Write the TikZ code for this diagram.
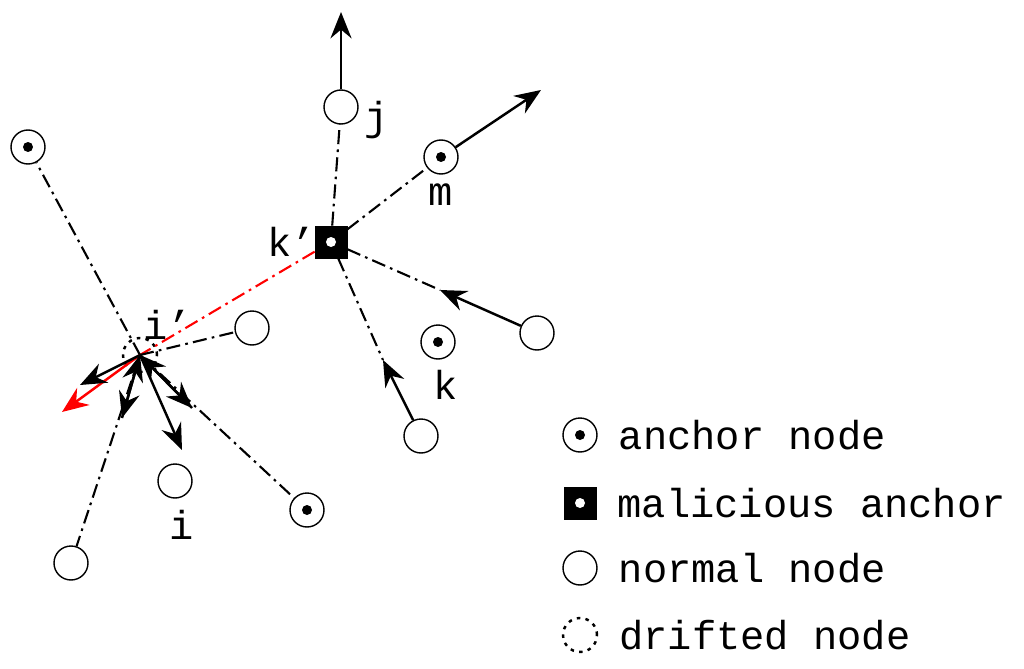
\documentclass[tikz,border=0pt]{standalone}
\usepackage{fontspec}
\setmainfont{Liberation Mono}
\usetikzlibrary{arrows.meta}

\tikzstyle{normal}=[draw, circle, line width=0.8pt, minimum size=0.68cm, inner sep=0pt, fill=white]
\tikzstyle{ancre}=[normal, path picture={\fill[black] (path picture bounding box.center) circle (0.1cm);}]
\tikzstyle{drifted}=[normal, dash pattern=on 2pt off 3pt, line width=1.4pt, fill=none]
\tikzstyle{malicious}=[draw, rectangle, fill=black, minimum size=0.64cm, inner sep=0pt,
    path picture={\fill[white] (path picture bounding box.center) circle (0.1cm);}]
\tikzstyle{dashdot}=[line width=1.2pt, dash pattern=on 8pt off 3pt on 1.5pt off 3pt]
\tikzstyle{force}=[line width=1.4pt, -{Stealth[length=15pt,width=12pt,inset=5pt]}]
\tikzstyle{lbl}=[font=\fontsize{23}{25}\selectfont]

\begin{document}
\begin{tikzpicture}[x=0.02cm, y=-0.02cm]
    \useasboundingbox (0,0) rectangle (1024,669);

    % nodes
    \node[malicious] (kp) at (331,242) {};
    \node[normal] (j) at (341,107) {};
    \node[ancre] (m) at (441,157) {};
    \node[ancre] (a1) at (28,147) {};
    \node[normal] (n1) at (252,328) {};
    \node[normal] (n2) at (537,333) {};
    \node[ancre] (k) at (438,342) {};
    \node[normal] (n3) at (421,436) {};
    \node[normal] (i) at (175,481) {};
    \node[ancre] (a2) at (307,510) {};
    \node[normal] (n4) at (71,563) {};
    \node[drifted] (ip) at (140,355) {};

    \coordinate (jt) at (341,12);
    \coordinate (mt) at (541,90);
    \coordinate (n2t) at (440,290);
    \coordinate (n3t) at (383,360);
    \coordinate (red) at (62,412);
    \coordinate (f1) at (80,385);
    \coordinate (f2) at (122,418);
    \coordinate (f3) at (192,408);
    \coordinate (f4) at (182,450);

    % labels
    \node[lbl] at (377,120) {j};
    \node[lbl] at (441,195) {m};
    \node[lbl] at (292,242) {k'};
    \node[lbl] at (446,385) {k};
    \node[lbl] at (182,525) {i};
    \node[lbl] at (168,325) {i'};

    % links
    \draw[dashdot] (kp) -- (j);
    \draw[dashdot] (kp) -- (m);
    \draw[dashdot] (kp) -- (n2t);
    \draw[dashdot] (kp) -- (n3t);
    \draw[dashdot, red] (kp) -- (ip.center);
    \draw[dashdot] (ip.center) -- (a1);
    \draw[dashdot] (ip.center) -- (n1);
    \draw[dashdot] (ip.center) -- (a2);
    \draw[dashdot] (ip.center) -- (n4);

    % forces
    \draw[force] (j) -- (jt);
    \draw[force] (m) -- (mt);
    \draw[force] (n2) -- (n2t);
    \draw[force] (n3) -- (n3t);
    \draw[force, red] (ip.center) -- (red);
    \foreach \f in {f1,f2,f3,f4}
        \draw[force] (ip.center) -- (\f);
    \draw[force] (f2) -- (ip.center);
    \draw[force] (f3) -- (ip.center);

    % legend
    \node[ancre] (la) at (580,435) {};
    \node[malicious] (lm) at (580,503) {};
    \node[normal] (ln) at (580,568) {};
    \node[drifted] (ld) at (580,635) {};
    \foreach \n/\t in {la/anchor node, lm/malicious anchor, ln/normal node, ld/drifted node}
        \node[lbl, anchor=west] at ([xshift=0.3cm]\n.east) {\t};
\end{tikzpicture}
\end{document}
